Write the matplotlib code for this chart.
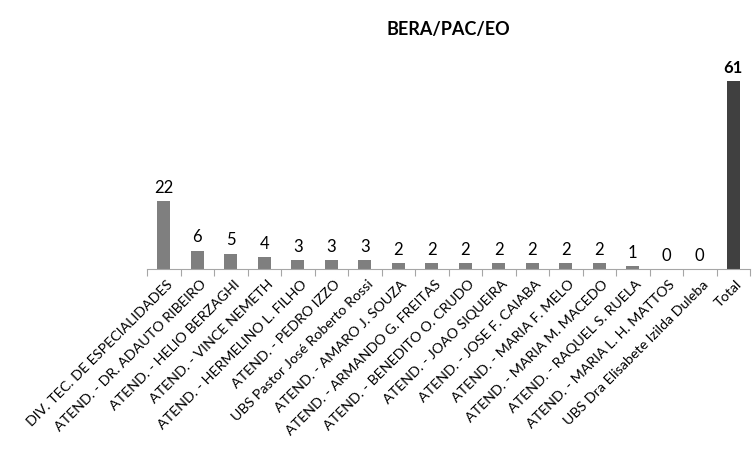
import numpy as np
import matplotlib.pyplot as plt

categories = [
    "DIV. TEC. DE ESPECIALIDADES",
    "ATEND. - DR. ADAUTO RIBEIRO",
    "ATEND. - HELIO BERZAGHI",
    "ATEND. - VINCE NEMETH",
    "ATEND. - HERMELINO L. FILHO",
    "ATEND. - PEDRO IZZO",
    "UBS Pastor José Roberto Rossi",
    "ATEND. - AMARO J. SOUZA",
    "ATEND. - ARMANDO G. FREITAS",
    "ATEND. - BENEDITO O. CRUDO",
    "ATEND. - JOAO SIQUEIRA",
    "ATEND. - JOSE F. CAIABA",
    "ATEND. - MARIA F. MELO",
    "ATEND. - MARIA M. MACEDO",
    "ATEND. - RAQUEL S. RUELA",
    "ATEND. - MARIA L. H. MATTOS",
    "UBS Dra Elisabete Izilda Duleba",
    "Total",
]
values = [22, 6, 5, 4, 3, 3, 3, 2, 2, 2, 2, 2, 2, 2, 1, 0, 0, 61]

plt.rcParams['font.family'] = ['Lato', 'DejaVu Sans']

fig = plt.figure(figsize=(7.54, 4.52), dpi=100)
ax = fig.add_axes([147 / 754, 182 / 452, 603 / 754, 215.7 / 452])

x = np.arange(len(values))
colors = ['#7f7f7f'] * (len(values) - 1) + ['#404040']
ax.bar(x, values, width=0.4, color=colors)

for i, v in enumerate(values):
    last = i == len(values) - 1
    ax.text(i, v + 2, str(v), ha='center', va='bottom', fontsize=12,
            fontweight='bold' if last else 'normal', color='black')

ax.set_xlim(-0.5, len(values) - 0.5)
ax.set_ylim(0, 70)
ax.set_yticks([])
for s in ['left', 'right', 'top']:
    ax.spines[s].set_visible(False)
ax.spines['bottom'].set_color('#a6a6a6')

# ticks sit on category boundaries, labels go under bar centres
ax.set_xticks(np.arange(len(values) + 1) - 0.5)
ax.set_xticklabels([])
ax.tick_params(axis='x', length=5, color='#a6a6a6', direction='out')

for i, name in enumerate(categories):
    ax.annotate(name, xy=(i, 0), xytext=(5, -9), textcoords='offset points',
                xycoords='data', rotation=45, rotation_mode='anchor',
                ha='right', va='center', fontsize=10.3)

fig.text(448 / 754, 1 - 30 / 452, 'BERA/PAC/EO', ha='center', va='center',
         fontsize=13, fontweight='bold')

fig.savefig('out.png', dpi=100)
